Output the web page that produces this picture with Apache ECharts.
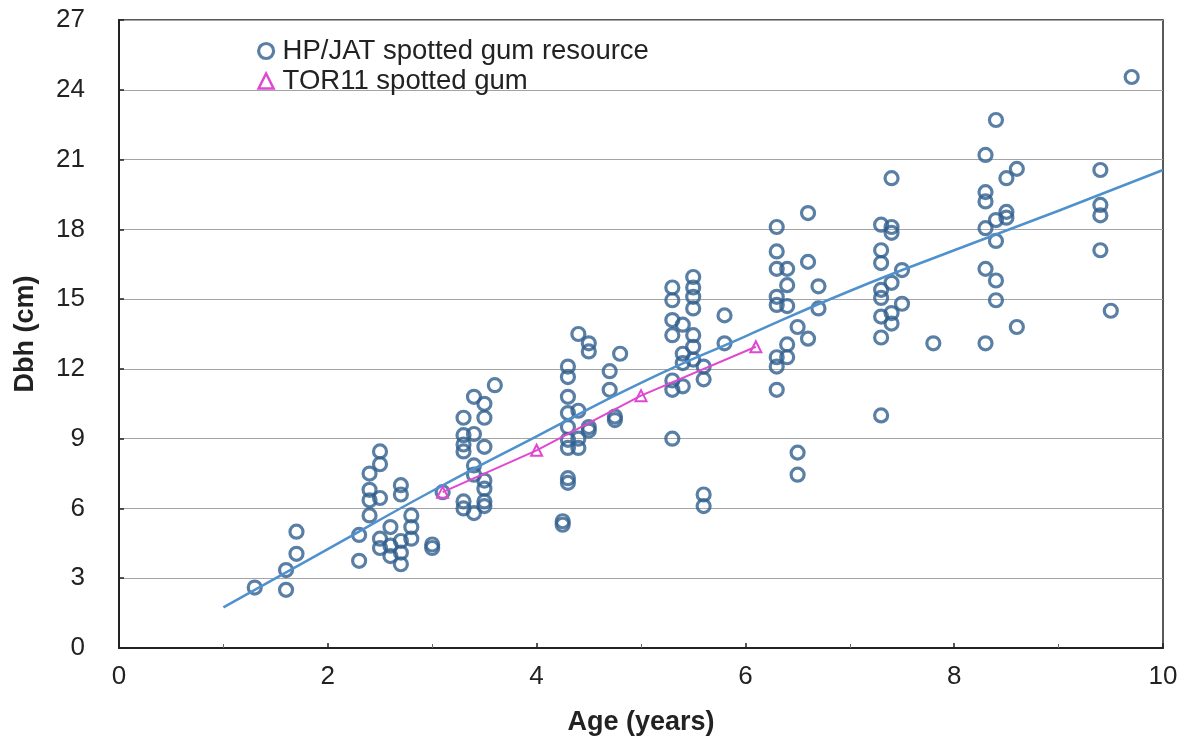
<!DOCTYPE html>
<html>
<head>
<meta charset="utf-8">
<script src="https://cdn.jsdelivr.net/npm/echarts@6/dist/echarts.min.js"></script>
<style>
html,body{margin:0;padding:0;background:#fff;}
#chart{width:1188px;height:742px;}
</style>
</head>
<body>
<div id="chart"></div>
<script>
// HP/JAT spotted gum resource: [age (years), Dbh (cm)]
var hpjatPoints = [
  [1.3,2.6],[1.6,3.35],[1.6,2.5],[1.7,4.05],[1.7,5.0],
  [2.3,4.86],[2.3,3.75],[2.5,8.45],[2.5,7.9],[2.4,7.5],[2.4,6.8],[2.4,6.35],[2.5,6.45],[2.4,5.7],
  [2.7,7.0],[2.7,6.6],[2.8,5.7],[2.8,5.2],[2.8,4.7],[2.6,5.2],[2.5,4.7],[2.5,4.3],[2.6,3.95],
  [2.7,4.6],[2.7,4.1],[2.7,3.6],[3.0,4.45],[3.0,4.3],[2.6,4.4],
  [3.1,6.7],[3.6,11.3],[3.4,10.8],[3.5,10.5],[3.3,9.9],[3.5,9.9],[3.4,9.2],[3.3,9.15],[3.5,8.65],
  [3.3,8.45],[3.3,8.75],[3.4,7.85],[3.4,7.45],[3.5,7.2],[3.5,6.85],[3.3,6.3],[3.5,6.3],[3.3,6.0],
  [3.4,5.8],[3.5,6.1],
  [4.3,12.1],[4.3,11.65],[4.3,10.8],[4.3,10.1],[4.4,10.2],[4.3,9.5],[4.5,9.5],[4.3,8.95],[4.4,9.0],
  [4.3,8.6],[4.4,8.6],[4.3,7.3],[4.3,7.1],[4.25,5.45],[4.25,5.3],[4.4,13.5],[4.5,13.1],[4.5,12.75],
  [4.8,12.65],[4.7,11.9],[4.7,11.1],[4.75,9.95],[4.75,9.8],[4.5,9.35],
  [5.3,15.5],[5.3,14.95],[5.3,14.1],[5.3,13.45],[5.4,13.9],[5.4,12.65],[5.4,12.25],[5.3,11.5],
  [5.3,11.1],[5.4,11.25],[5.5,15.95],[5.5,15.5],[5.5,15.1],[5.5,14.6],[5.5,13.45],[5.5,12.95],
  [5.5,12.4],[5.6,12.1],[5.6,11.55],[5.8,14.3],[5.8,13.1],[5.3,9.0],[5.6,6.6],[5.6,6.1],
  [6.3,18.1],[6.3,17.05],[6.3,16.3],[6.4,16.3],[6.4,15.6],[6.3,15.1],[6.3,14.75],[6.4,14.7],
  [6.6,18.7],[6.6,16.6],[6.7,15.55],[6.7,14.6],[6.5,13.8],[6.6,13.3],[6.4,13.05],[6.3,12.5],
  [6.4,12.5],[6.3,12.1],[6.3,11.1],[6.5,8.4],[6.5,7.45],
  [7.4,20.2],[7.3,18.2],[7.4,18.1],[7.4,17.85],[7.3,17.1],[7.3,16.55],[7.5,16.25],[7.4,15.7],
  [7.3,15.4],[7.3,15.05],[7.5,14.8],[7.4,14.4],[7.3,14.25],[7.4,13.95],[7.3,13.35],[7.8,13.1],[7.3,10.0],
  [8.4,22.7],[8.3,21.2],[8.6,20.6],[8.5,20.2],[8.3,19.6],[8.3,19.2],[8.5,18.75],[8.4,18.4],
  [8.5,18.5],[8.3,18.05],[8.4,17.5],[8.3,16.3],[8.4,15.8],[8.4,14.95],[8.6,13.8],[8.3,13.1],
  [9.4,20.55],[9.4,19.05],[9.4,18.6],[9.4,17.1],[9.5,14.5],[9.7,24.55]
];
// TOR11 spotted gum
var torAges = [3.1, 4.0, 5.0, 6.1];
var torDbh = [6.7, 8.5, 10.85, 12.95];
// Fitted trend for HP/JAT
var trendAges = [1, 2, 3, 4, 5, 6, 7, 8, 9, 10];
var trendDbh = [1.75, 4.25, 6.75, 9.1, 11.4, 13.4, 15.35, 17.1, 18.8, 20.55];
var xTicks = [0, 2, 4, 6, 8, 10];
var yTicks = [0, 3, 6, 9, 12, 15, 18, 21, 24, 27];

var FONT = '"Liberation Sans", Arial, Helvetica, sans-serif';
var circleColor = '#315f8e';
var trendColor = '#4f91cd';
var torColor = '#e048d2';

var chart = echarts.init(document.getElementById('chart'), null, {renderer: 'canvas'});
chart.setOption({
  animation: false,
  backgroundColor: '#ffffff',
  textStyle: {fontFamily: FONT},
  grid: {left: 119, right: 25, top: 20, bottom: 94, show: true, borderColor: '#222', borderWidth: 1.5},
  legend: {
    orient: 'vertical', left: 252, top: 31, itemGap: 0,
    itemWidth: 15, itemHeight: 15,
    textStyle: {fontFamily: FONT, fontSize: 27.5, lineHeight: 30, color: '#222', padding: [0, 0, 0, 4]},
    data: [
      {name: 'HP/JAT spotted gum resource', icon: 'circle',
       itemStyle: {color: 'rgba(255,255,255,0)', borderColor: circleColor, borderWidth: 3.2}},
      {name: 'TOR11 spotted gum', icon: 'triangle',
       itemStyle: {color: 'rgba(255,255,255,0)', borderColor: torColor, borderWidth: 2.5}}
    ]
  },
  xAxis: {
    type: 'value', min: xTicks[0], max: xTicks[xTicks.length - 1], interval: 2,
    name: 'Age (years)', nameLocation: 'middle', nameGap: 61,
    nameTextStyle: {fontFamily: FONT, fontSize: 27, fontWeight: 'bold', color: '#222'},
    axisLine: {show: true, lineStyle: {color: '#222', width: 2}},
    axisTick: {show: true, inside: true, length: 5, lineStyle: {color: '#222', width: 1.5}},
    minorTick: {show: true, splitNumber: 2, length: 4, lineStyle: {color: '#666', width: 1}},
    axisLabel: {fontFamily: FONT, fontSize: 26, color: '#222', margin: 16},
    splitLine: {show: false}
  },
  yAxis: {
    type: 'value', min: yTicks[0], max: yTicks[yTicks.length - 1], interval: 3,
    name: 'Dbh (cm)', nameLocation: 'middle', nameGap: 80, nameRotate: 90,
    nameTextStyle: {fontFamily: FONT, fontSize: 27, fontWeight: 'bold', color: '#222'},
    axisLine: {show: true, lineStyle: {color: '#222', width: 2}},
    axisTick: {show: true, inside: true, length: 5, lineStyle: {color: '#222', width: 1.5}},
    axisLabel: {fontFamily: FONT, fontSize: 26, color: '#222', margin: 34},
    splitLine: {show: true, lineStyle: {color: '#a4a4a4', width: 1.2}}
  },
  series: [
    {
      name: 'HP/JAT spotted gum resource', type: 'scatter',
      data: hpjatPoints, symbol: 'circle', symbolSize: 13,
      itemStyle: {color: 'rgba(255,255,255,0)', borderColor: circleColor, borderWidth: 3.2},
      z: 2
    },
    {
      name: 'trend', type: 'line', smooth: true, showSymbol: false, symbol: 'none',
      data: trendAges.map(function (a, i) { return [a, trendDbh[i]]; }),
      lineStyle: {color: trendColor, width: 2.5}, z: 3
    },
    {
      name: 'TOR11 spotted gum', type: 'line',
      data: torAges.map(function (a, i) { return [a, torDbh[i]]; }),
      symbol: 'triangle', symbolSize: 11, showSymbol: true,
      itemStyle: {color: 'rgba(255,255,255,0)', borderColor: torColor, borderWidth: 2},
      lineStyle: {color: torColor, width: 2}, z: 4
    }
  ]
});
</script>
</body>
</html>
